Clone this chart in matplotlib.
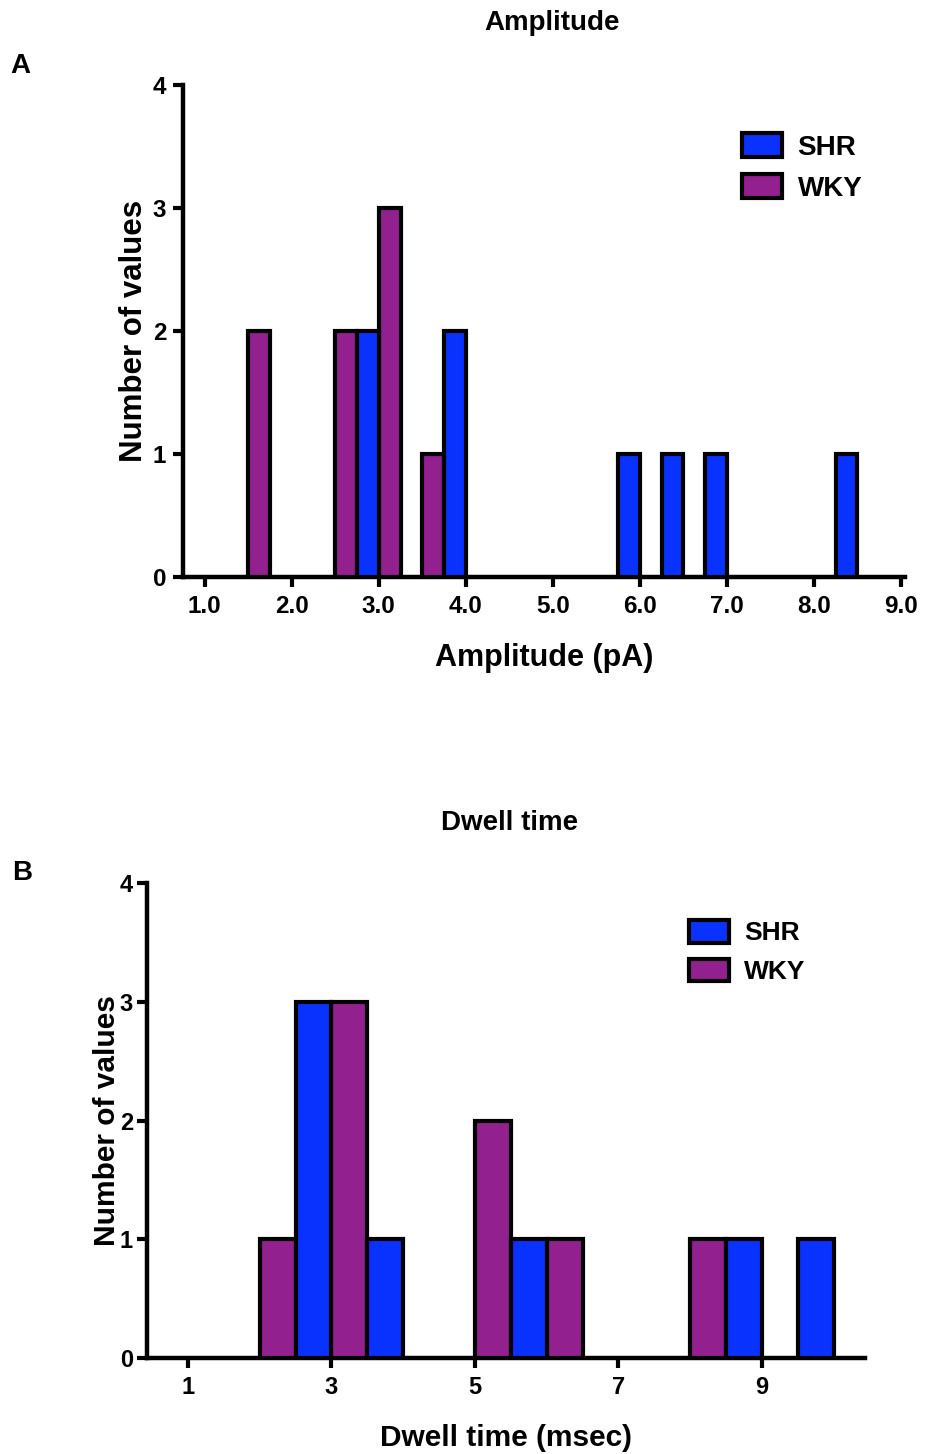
import matplotlib
matplotlib.use("Agg")
import matplotlib.pyplot as plt
import numpy as np
from matplotlib.patches import Patch

# bin left edges and counts for each group
amp_bins = [1.5, 2.5, 3.0, 3.5, 5.5, 6.0, 6.5, 8.0]
amp_wky = [2, 2, 3, 1, 0, 0, 0, 0]
amp_shr = [0, 2, 0, 2, 1, 1, 1, 1]
amp_ticks = [1.0, 2.0, 3.0, 4.0, 5.0, 6.0, 7.0, 8.0, 9.0]

dwell_bins = [2, 3, 5, 6, 8, 9]
dwell_wky = [1, 3, 2, 1, 1, 0]
dwell_shr = [3, 1, 1, 0, 1, 1]
dwell_ticks = [1, 3, 5, 7, 9]

shr_color = '#0A32FF'
wky_color = '#92208F'

fam = ['Liberation Sans', 'DejaVu Sans']

fig = plt.figure(figsize=(9.26, 14.54), dpi=100)


def draw_panel(ax, bins, wky, shr, width, ticks, ticklabels, tsize, ypad):
    bins = np.array(bins, dtype=float)
    wky = np.array(wky)
    shr = np.array(shr)
    half = width / 2
    m = wky > 0
    ax.bar(bins[m], wky[m], width=half, align='edge', color=wky_color,
           edgecolor='black', linewidth=3, label='WKY', zorder=3)
    m = shr > 0
    ax.bar(bins[m] + half, shr[m], width=half, align='edge', color=shr_color,
           edgecolor='black', linewidth=3, label='SHR', zorder=3)
    for s in ['top', 'right']:
        ax.spines[s].set_visible(False)
    for s in ['left', 'bottom']:
        ax.spines[s].set_linewidth(3.2)
    ax.set_ylim(0, 4)
    ax.set_yticks([0, 1, 2, 3, 4])
    ax.set_xticks(ticks)
    ax.set_xticklabels(ticklabels)
    ax.tick_params(width=3, length=7, labelsize=tsize, pad=6)
    ax.tick_params(axis='y', pad=ypad)
    for lab in ax.get_xticklabels() + ax.get_yticklabels():
        lab.set_family(fam)
        lab.set_fontweight('bold')
    handles = [Patch(facecolor=shr_color, edgecolor='black', linewidth=3, label='SHR'),
               Patch(facecolor=wky_color, edgecolor='black', linewidth=3, label='WKY')]
    return handles


# Panel A
axA = fig.add_axes([0.1976, 0.6032, 0.780, 0.3384])
h = draw_panel(axA, amp_bins, amp_wky, amp_shr, 0.5,
               amp_ticks, ['%.1f' % t for t in amp_ticks], 17.5, 5)
axA.set_xlim(0.75, 9.05)
axA.set_xlabel('Amplitude (pA)', fontsize=22, fontweight='bold', family=fam, labelpad=18)
axA.set_ylabel('Number of values', fontsize=22.5, fontweight='bold', family=fam, labelpad=3)
fig.text(552 / 926, 1 - 23 / 1454, 'Amplitude', ha='center', va='center',
         fontsize=20, fontweight='bold', family=fam)
fig.text(20 / 926, 1 - 66 / 1454, 'A', ha='center', va='center',
         fontsize=20, fontweight='bold', family=fam)
axA.legend(handles=h, loc='upper left', bbox_to_anchor=(742 / 926, 1 - 133 / 1454),
           bbox_transform=fig.transFigure, frameon=False, handlelength=1.45,
           handleheight=0.95, handletextpad=0.55, labelspacing=0.5, borderaxespad=0,
           borderpad=0, prop={'family': fam, 'weight': 'bold', 'size': 20})

# Panel B
axB = fig.add_axes([0.1587, 0.0660, 0.7754, 0.3267])
h = draw_panel(axB, dwell_bins, dwell_wky, dwell_shr, 1.0,
               dwell_ticks, [str(t) for t in dwell_ticks], 17, 3)
axB.set_xlim(0.43, 10.435)
axB.set_xlabel('Dwell time (msec)', fontsize=21.5, fontweight='bold', family=fam, labelpad=18)
axB.set_ylabel('Number of values', fontsize=21.5, fontweight='bold', family=fam, labelpad=-1)
fig.text(510 / 926, 1 - 823 / 1454, 'Dwell time', ha='center', va='center',
         fontsize=20, fontweight='bold', family=fam)
fig.text(22 / 926, 1 - 873 / 1454, 'B', ha='center', va='center',
         fontsize=20, fontweight='bold', family=fam)
axB.legend(handles=h, loc='upper left', bbox_to_anchor=(689 / 926, 1 - 920 / 1454),
           bbox_transform=fig.transFigure, frameon=False, handlelength=1.5,
           handleheight=0.95, handletextpad=0.6, labelspacing=0.5, borderaxespad=0,
           borderpad=0, prop={'family': fam, 'weight': 'bold', 'size': 19})

fig.savefig('out.png', dpi=100)
